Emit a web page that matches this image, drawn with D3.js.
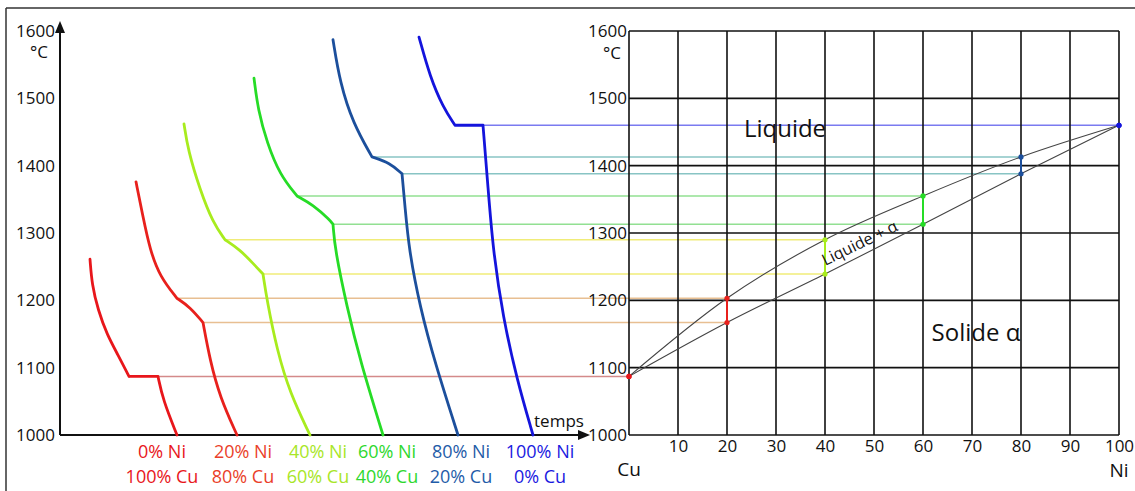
<!DOCTYPE html>
<html>
<head>
<meta charset="utf-8">
<title>Cu-Ni cooling curves</title>
<script src="https://d3js.org/d3.v7.min.js"></script>
<style>
  body { margin: 0; background: #fff; }
  text { font-family: "Open Sans", sans-serif; }
  .grid line { stroke: #111; stroke-width: 1.6px; }
  .axis path, .axis line { display: none; }
  .axis text { font-size: 17px; fill: #111; }
</style>
</head>
<body>
<svg width="1135" height="491"></svg>
<script>
// compositions (% Ni) and phase diagram temperatures (°C)
var nickel = [0, 20, 40, 60, 80, 100];
var niLabels = ["0% Ni", "20% Ni", "40% Ni", "60% Ni", "80% Ni", "100% Ni"];
var cuLabels = ["100% Cu", "80% Cu", "60% Cu", "40% Cu", "20% Cu", "0% Cu"];
var liquidus = [1087, 1203, 1290, 1355, 1413, 1460];
var solidus  = [1087, 1167, 1239, 1313, 1388, 1460];

var tempTicks = [1000, 1100, 1200, 1300, 1400, 1500, 1600];
var niTicks = [10, 20, 30, 40, 50, 60, 70, 80, 90, 100];

// cooling curves: [time, °C], three segments each (liquid, solidification, solid)
var cooling0 = [
  [[30, 1261], [32, 1223], [38, 1186], [47, 1149], [58, 1119], [69, 1087]],
  [[69, 1087], [98, 1087]],
  [[98, 1087], [103, 1052], [117, 1000]]
];
var cooling20 = [
  [[76, 1376], [83, 1324], [90, 1275], [100, 1235], [117, 1203]],
  [[117, 1203], [130, 1190], [143, 1167]],
  [[143, 1167], [150, 1111], [160, 1056], [177, 1000]]
];
var cooling40 = [
  [[124, 1462], [128, 1423], [140, 1364], [153, 1315], [165, 1290]],
  [[165, 1290], [180, 1275], [193, 1255], [203, 1239]],
  [[203, 1239], [207, 1200], [217, 1126], [230, 1062], [250, 1000]]
];
var cooling60 = [
  [[194, 1530], [198, 1483], [207, 1434], [220, 1386], [237, 1355]],
  [[237, 1355], [253, 1342], [270, 1319], [273, 1313]],
  [[273, 1313], [275, 1275], [287, 1190], [300, 1111], [323, 1000]]
];
var cooling80 = [
  [[273, 1587], [280, 1523], [293, 1463], [312, 1413]],
  [[312, 1413], [330, 1404], [342, 1388]],
  [[342, 1388], [345, 1339], [349, 1275], [360, 1190], [375, 1107], [398, 1000]]
];
var cooling100 = [
  [[359, 1591], [370, 1532], [383, 1487], [395, 1460]],
  [[395, 1460], [423, 1460]],
  [[423, 1460], [428, 1368], [433, 1275], [443, 1175], [457, 1082], [473, 1000]]
];
var cooling = [cooling0, cooling20, cooling40, cooling60, cooling80, cooling100];

var curveColors = ["#e8161b", "#e8201c", "#a8ec1e", "#26dc26", "#1c4f9c", "#1414dc"];
var labelColors = ["#e8161b", "#ea3f2a", "#a8e628", "#2ed82e", "#1f5ca8", "#1a1adf"];
var guideColors = ["#d48a8a", "#e8bf92", "#f0ec78", "#92e092", "#88c4c4", "#7a7af0"];

var svg = d3.select("svg");

var y = d3.scaleLinear().domain([1000, 1600]).range([435, 31]);
var t = d3.scaleLinear().domain([0, 528]).range([60, 588]);
var x = d3.scaleLinear().domain([0, 100]).range([629, 1119]);

// frame
svg.append("line").attr("x1", 6).attr("x2", 1135).attr("y1", 8).attr("y2", 8)
  .attr("stroke", "#333").attr("stroke-width", 1.5);
svg.append("line").attr("x1", 6).attr("x2", 6).attr("y1", 8).attr("y2", 491)
  .attr("stroke", "#333").attr("stroke-width", 1.5);

// guide lines from cooling curve breaks to the diagram
var guides = [];
nickel.forEach(function(n, i) {
  var c = cooling[i];
  if (liquidus[i] === solidus[i]) {
    guides.push({t0: c[1][c[1].length - 1][0], T: liquidus[i], n: n, i: i});
  } else {
    guides.push({t0: c[0][c[0].length - 1][0], T: liquidus[i], n: n, i: i});
    guides.push({t0: c[1][c[1].length - 1][0], T: solidus[i], n: n, i: i});
  }
});
svg.append("g").selectAll("line").data(guides).enter().append("line")
  .attr("x1", function(d) { return t(d.t0); })
  .attr("x2", function(d) { return x(d.n); })
  .attr("y1", function(d) { return y(d.T); })
  .attr("y2", function(d) { return y(d.T); })
  .attr("stroke", function(d) { return guideColors[d.i]; })
  .attr("stroke-width", 1.5);

// right grid
var grid = svg.append("g").attr("class", "grid");
grid.selectAll(".v").data([0].concat(niTicks)).enter().append("line")
  .attr("x1", function(d) { return x(d); }).attr("x2", function(d) { return x(d); })
  .attr("y1", y(1000)).attr("y2", y(1600));
grid.selectAll(".h").data(tempTicks).enter().append("line")
  .attr("x1", x(0)).attr("x2", x(100))
  .attr("y1", function(d) { return y(d); }).attr("y2", function(d) { return y(d); });

// liquidus / solidus
var phaseLine = d3.line()
  .x(function(d) { return x(d[0]); })
  .y(function(d) { return y(d[1]); })
  .curve(d3.curveMonotoneX);
[liquidus, solidus].forEach(function(arr) {
  svg.append("path")
    .attr("d", phaseLine(nickel.map(function(n, i) { return [n, arr[i]]; })))
    .attr("fill", "none").attr("stroke", "#444").attr("stroke-width", 1.1);
});

// tie lines and points
nickel.forEach(function(n, i) {
  if (liquidus[i] !== solidus[i]) {
    svg.append("line")
      .attr("x1", x(n)).attr("x2", x(n))
      .attr("y1", y(liquidus[i])).attr("y2", y(solidus[i]))
      .attr("stroke", curveColors[i]).attr("stroke-width", 2);
  }
  svg.selectAll(null).data([liquidus[i], solidus[i]]).enter().append("circle")
    .attr("cx", x(n)).attr("cy", function(d) { return y(d); }).attr("r", 2.6)
    .attr("fill", curveColors[i]);
});

// region labels
svg.append("text").attr("x", 785).attr("y", 137).attr("text-anchor", "middle")
  .style("font-size", "24px").attr("fill", "#111").text("Liquide");
svg.append("text").attr("x", 976).attr("y", 341).attr("text-anchor", "middle")
  .style("font-size", "24px").attr("fill", "#111").text("Solide α");
svg.append("text").attr("transform", "translate(862,248) rotate(-26)")
  .attr("text-anchor", "middle")
  .style("font-size", "16px").attr("fill", "#111").text("Liquide + α");

// right axes
svg.append("g").attr("class", "axis").attr("transform", "translate(" + x(0) + ",0)")
  .call(d3.axisLeft(y).tickValues(tempTicks).tickSize(0).tickPadding(2).tickFormat(d3.format("d")));
svg.append("g").attr("class", "axis").attr("transform", "translate(0," + y(1000) + ")")
  .call(d3.axisBottom(x).tickValues(niTicks).tickSize(0).tickPadding(5));
svg.append("text").attr("x", 612).attr("y", 59).attr("text-anchor", "middle")
  .style("font-size", "17px").attr("fill", "#111").text("°C");
svg.append("text").attr("x", x(0)).attr("y", 476).attr("text-anchor", "middle")
  .style("font-size", "19px").attr("fill", "#111").text("Cu");
svg.append("text").attr("x", x(100)).attr("y", 477).attr("text-anchor", "middle")
  .style("font-size", "19px").attr("fill", "#111").text("Ni");

// left axes
var left = svg.append("g");
left.append("line").attr("x1", t(0)).attr("x2", t(0)).attr("y1", y(1000)).attr("y2", 30)
  .attr("stroke", "#111").attr("stroke-width", 2);
left.append("line").attr("x1", t(0)).attr("x2", t(522)).attr("y1", y(1000)).attr("y2", y(1000))
  .attr("stroke", "#111").attr("stroke-width", 2);
left.append("path").attr("d", "M" + t(0) + ",21 l-5,12 l10,0 z").attr("fill", "#111");
left.append("path").attr("d", "M" + (t(528) + 2) + "," + y(1000) + " l-12,-5 l0,10 z").attr("fill", "#111");
svg.append("g").attr("class", "axis").attr("transform", "translate(" + (t(0) - 3) + ",0)")
  .call(d3.axisLeft(y).tickValues(tempTicks).tickSize(0).tickPadding(2).tickFormat(d3.format("d")));
svg.append("text").attr("x", 39).attr("y", 58).attr("text-anchor", "middle")
  .style("font-size", "17px").attr("fill", "#111").text("°C");
svg.append("text").attr("x", 559).attr("y", 427).attr("text-anchor", "middle")
  .style("font-size", "17px").attr("fill", "#111").text("temps");

// cooling curves
var coolLine = d3.line()
  .x(function(d) { return t(d[0]); })
  .y(function(d) { return y(d[1]); })
  .curve(d3.curveBasis);
cooling.forEach(function(segs, i) {
  svg.append("path")
    .attr("d", segs.map(function(s) { return coolLine(s); }).join(""))
    .attr("fill", "none").attr("stroke", curveColors[i])
    .attr("stroke-width", 2.8).attr("stroke-linecap", "round").attr("stroke-linejoin", "round");
});

// composition labels
var labelX = [162, 243, 318, 387, 461, 540];
nickel.forEach(function(n, i) {
  svg.append("text").attr("x", labelX[i]).attr("y", 458).attr("text-anchor", "middle")
    .style("font-size", "18px").attr("fill", labelColors[i]).text(niLabels[i]);
  svg.append("text").attr("x", labelX[i]).attr("y", 483).attr("text-anchor", "middle")
    .style("font-size", "18px").attr("fill", labelColors[i]).text(cuLabels[i]);
});
</script>
</body>
</html>
